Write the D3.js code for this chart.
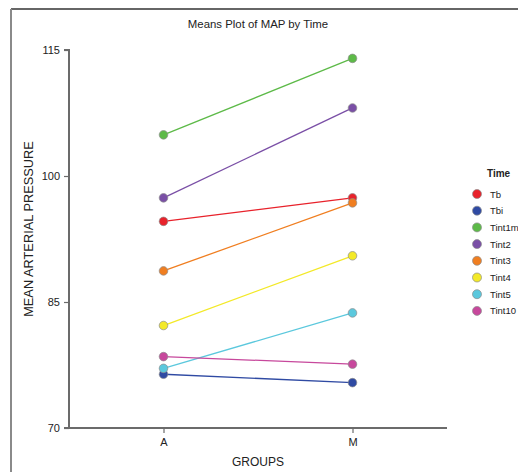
<!DOCTYPE html>
<html>
<head>
<meta charset="utf-8">
<script src="https://cdn.jsdelivr.net/npm/d3@7/dist/d3.min.js"></script>
<style>
  html, body { margin: 0; padding: 0; background: #fff; }
  svg { display: block; font-family: "Liberation Sans", Arial, sans-serif; }
</style>
</head>
<body>
<svg id="chart" width="518" height="472"></svg>
<script>
/* ── data ── */
const groups = ["A", "M"];
const series = ["Tb", "Tbi", "Tint1mi", "Tint2", "Tint3", "Tint4", "Tint5", "Tint10"];
const colors = ["#e8222b", "#2f4aa3", "#5dba48", "#7a4fa6", "#f07e20", "#f3e928", "#5bc8dd", "#c7489c"];
const valuesA = [94.6, 76.4, 104.9, 97.4, 88.7, 82.2, 77.1, 78.5];
const valuesM = [97.4, 75.4, 114.0, 108.1, 96.8, 90.5, 83.7, 77.6];
const yTicks = [70, 85, 100, 115];

const svg = d3.select("#chart");

/* frame */
svg.append("line").attr("x1", 11).attr("x2", 518).attr("y1", 9).attr("y2", 9)
  .attr("stroke", "#333").attr("stroke-width", 1.5);
svg.append("line").attr("x1", 11).attr("x2", 11).attr("y1", 9).attr("y2", 472)
  .attr("stroke", "#8a8a8a").attr("stroke-width", 2);

/* scales */
const x = d3.scalePoint().domain(groups).range([69, 447]).padding(0.5);
const y = d3.scaleLinear().domain([70, 115]).range([428, 50]);

/* axes */
const yAxis = svg.append("g").attr("transform", "translate(69,0)")
  .call(d3.axisLeft(y).tickValues(yTicks).tickSize(5).tickPadding(4));
const xAxis = svg.append("g").attr("transform", "translate(0,428)")
  .call(d3.axisBottom(x).tickSize(5).tickPadding(5).tickSizeOuter(0));
[yAxis, xAxis].forEach(g => {
  g.select(".domain").attr("stroke", "#6b6b6b").attr("stroke-width", 2);
  g.selectAll(".tick line").attr("stroke", "#6b6b6b").attr("stroke-width", 1.2);
  g.selectAll(".tick text").attr("fill", "#222").attr("font-size", 11)
    .attr("font-family", "Liberation Sans, Arial, sans-serif");
});
yAxis.select(".domain").attr("d", "M-5,50H0V428");
xAxis.select(".domain").attr("d", "M64,0H447");

/* titles */
svg.append("text").attr("x", 258).attr("y", 28).attr("text-anchor", "middle")
  .attr("font-size", 11.4).attr("fill", "#222").text("Means Plot of MAP by Time");
svg.append("text").attr("x", 258).attr("y", 466).attr("text-anchor", "middle")
  .attr("font-size", 12).attr("fill", "#222").text("GROUPS");
svg.append("text").attr("transform", "translate(33,229) rotate(-90)")
  .attr("text-anchor", "middle").attr("font-size", 12.8).attr("fill", "#222")
  .text("MEAN ARTERIAL PRESSURE");

/* lines + markers */
const rows = series.map((s, i) => ({ name: s, color: colors[i], vals: [valuesA[i], valuesM[i]] }));
const line = d3.line().x((d, j) => x(groups[j])).y(d => y(d));

const gSer = svg.append("g");
rows.forEach(r => {
  gSer.append("path").datum(r.vals).attr("d", line)
    .attr("fill", "none").attr("stroke", r.color).attr("stroke-width", 1.3);
});
rows.forEach(r => {
  r.vals.forEach((v, j) => {
    gSer.append("circle").attr("cx", x(groups[j])).attr("cy", y(v)).attr("r", 4.3)
      .attr("fill", r.color).attr("stroke", "#8c8c8c").attr("stroke-width", 0.7);
  });
});

/* legend */
const leg = svg.append("g");
leg.append("text").attr("x", 487).attr("y", 177).attr("font-size", 10)
  .attr("font-weight", "bold").attr("fill", "#222").text("Time");
rows.forEach((r, i) => {
  const ly = 194 + i * 16.7;
  leg.append("circle").attr("cx", 477).attr("cy", ly).attr("r", 4.5)
    .attr("fill", r.color).attr("stroke", "#8c8c8c").attr("stroke-width", 0.7);
  leg.append("text").attr("x", 490).attr("y", ly + 3.5).attr("font-size", 9.5)
    .attr("fill", "#222").text(r.name);
});
</script>
</body>
</html>
